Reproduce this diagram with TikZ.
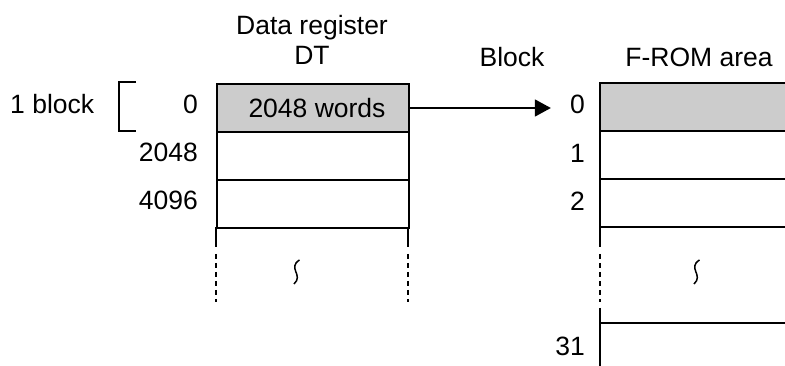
\documentclass[tikz,border=0pt]{standalone}
\usepackage{fontspec,tikz}
\setmainfont{Liberation Sans}
\usetikzlibrary{arrows.meta}
\definecolor{cellgray}{HTML}{CCCCCC}
\tikzset{
  txt/.style={inner sep=0pt,font=\fontsize{26.5}{31.8}\selectfont},
  cell/.style={draw,line width=2pt,minimum width=192pt,minimum height=48pt,inner sep=0pt,anchor=north west,txt},
  wave/.pic={\draw[line width=1.5pt] (3.5,-12) .. controls (-9,-4) and (8,3) .. (-2,12);}
}

\begin{document}
\begin{tikzpicture}[x=1pt,y=-1pt]
\path[use as bounding box] (0,0) rectangle (785.0,366.0);
% headings
\node[txt,anchor=base] (hdDT) at (312,35) {Data register};
\node[txt,anchor=base] (hdDT2) at (312,65) {DT};
\node[txt,anchor=base] (hdBlk) at (512,67) {Block};
\node[txt,anchor=base] (hdRom) at (699,67) {F-ROM area};
% data register DT
\node[cell,fill=cellgray] (dt0) at (216,83) {\hspace*{8pt}2048 words};
\node[cell] (dt1) at (216,131) {};
\node[cell] (dt2) at (216,179) {};
\draw[line width=2pt] (216,227) -- (216,247);
\draw[line width=2pt] (408,227) -- (408,247);
\draw[line width=2pt,dash pattern=on 5pt off 4pt] (216,254) -- (216,302);
\draw[line width=2pt,dash pattern=on 5pt off 4pt] (408,254) -- (408,302);
\pic at (296,272) {wave};
\node[txt,anchor=base east] (ad0) at (198,114) {0};
\node[txt,anchor=base east] (ad1) at (198,162) {2048};
\node[txt,anchor=base east] (ad2) at (198,210) {4096};
\node[txt,anchor=base west] (oneblk) at (10,114) {1 block};
\draw[line width=2pt] (136,82) -- (119,82) -- (119,131) -- (136,131);
% F-ROM area
\fill[cellgray] (600,83) rectangle (785,131);
\draw[line width=2pt] (785,83) -- (600,83) -- (600,247);
\foreach \yy in {131,179,227,323}
  \draw[line width=2pt] (600,\yy) -- (785,\yy);
\draw[line width=2pt,dash pattern=on 5pt off 4pt] (600,254) -- (600,302);
\draw[line width=2pt] (600,308) -- (600,366);
\pic at (696,272) {wave};
\node[txt,anchor=base east] (blk0) at (585,114) {0};
\node[txt,anchor=base east] (blk1) at (585,163) {1};
\node[txt,anchor=base east] (blk2) at (585,211) {2};
\node[txt,anchor=base east] (blk31) at (585,355) {31};
% transfer
\draw[line width=1.5pt,-{Triangle[length=16pt,width=17pt]},shorten >=19pt] (dt0.east) -- (dt0.east -| blk0.west);
\end{tikzpicture}
\end{document}
